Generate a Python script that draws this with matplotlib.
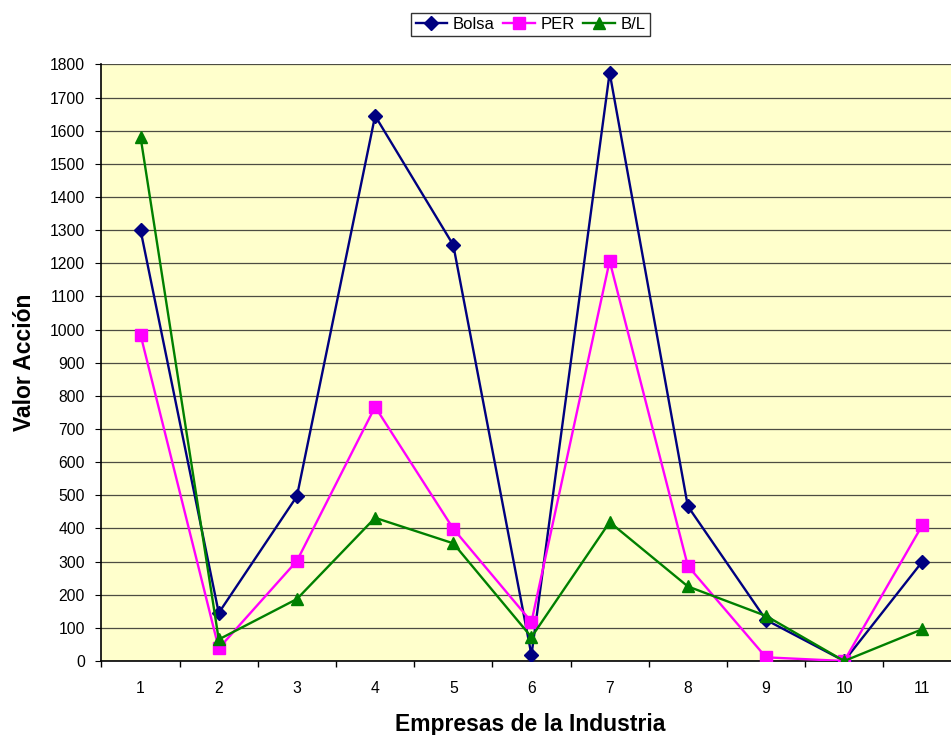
import numpy as np
import matplotlib.pyplot as plt

plt.rcParams['font.family'] = ['Liberation Sans', 'DejaVu Sans']

# Datos
empresas = ['1', '2', '3', '4', '5', '6', '7', '8', '9', '10', '11']
bolsa = [1300, 145, 497, 1645, 1255, 18, 1775, 467, 124, 0, 300]
per = [984, 38, 302, 767, 399, 118, 1207, 287, 11, 0, 410]
bl = [1581, 65, 187, 432, 355, 72, 419, 225, 136, 0, 96]

y_ticks = list(range(0, 1900, 100))

fig = plt.figure(figsize=(9.51, 7.35), dpi=100)
ax = fig.add_axes([0.1067, 0.1007, 0.9043, 0.8116])
ax.set_facecolor('#FFFFCC')

x = np.arange(len(empresas))

ax.plot(x, bolsa, color='#000080', marker='D', markersize=7.5, linewidth=1.7, label='Bolsa', zorder=3)
ax.plot(x, per, color='#FF00FF', marker='s', markersize=8.5, linewidth=1.7, label='PER', zorder=3)
ax.plot(x, bl, color='#008000', marker='^', markersize=9, linewidth=1.7, label='B/L', zorder=3)

ax.set_xlim(-0.5, len(empresas) - 0.5)
ax.set_ylim(0, 1800)
ax.set_yticks(y_ticks)
ax.set_xticks(x)
ax.set_xticklabels(empresas)
ax.set_xticks(np.arange(-0.5, len(empresas)), minor=True)
ax.tick_params(axis='x', which='major', length=0, labelsize=11.3, pad=14.5)
ax.tick_params(axis='x', which='minor', length=4.3, direction='out', width=1)
ax.tick_params(axis='y', length=4.3, direction='out', labelsize=11.3, pad=7.5)

ax.yaxis.grid(True, color='#202020', linewidth=0.9, alpha=0.8)
ax.set_axisbelow(True)
for s in ['top', 'right']:
    ax.spines[s].set_visible(False)
ax.spines['left'].set_linewidth(1.2)
ax.spines['bottom'].set_linewidth(1.2)

ax.set_xlabel('Empresas de la Industria', fontsize=16.5, fontweight='bold')
ax.xaxis.set_label_coords(0.499, -0.087)
ax.set_ylabel('Valor Acción', fontsize=16.5, fontweight='bold')
ax.yaxis.set_label_coords(-0.076, 0.5)

leg = fig.legend(loc='center', bbox_to_anchor=(0.558, 0.967), ncol=3, fontsize=12,
                 frameon=True, fancybox=False, edgecolor='black', handlelength=1.9,
                 handletextpad=0.35, columnspacing=0.5, borderpad=0.25, borderaxespad=0)
leg.get_frame().set_linewidth(1.0)

fig.savefig('out.png', dpi=100)
